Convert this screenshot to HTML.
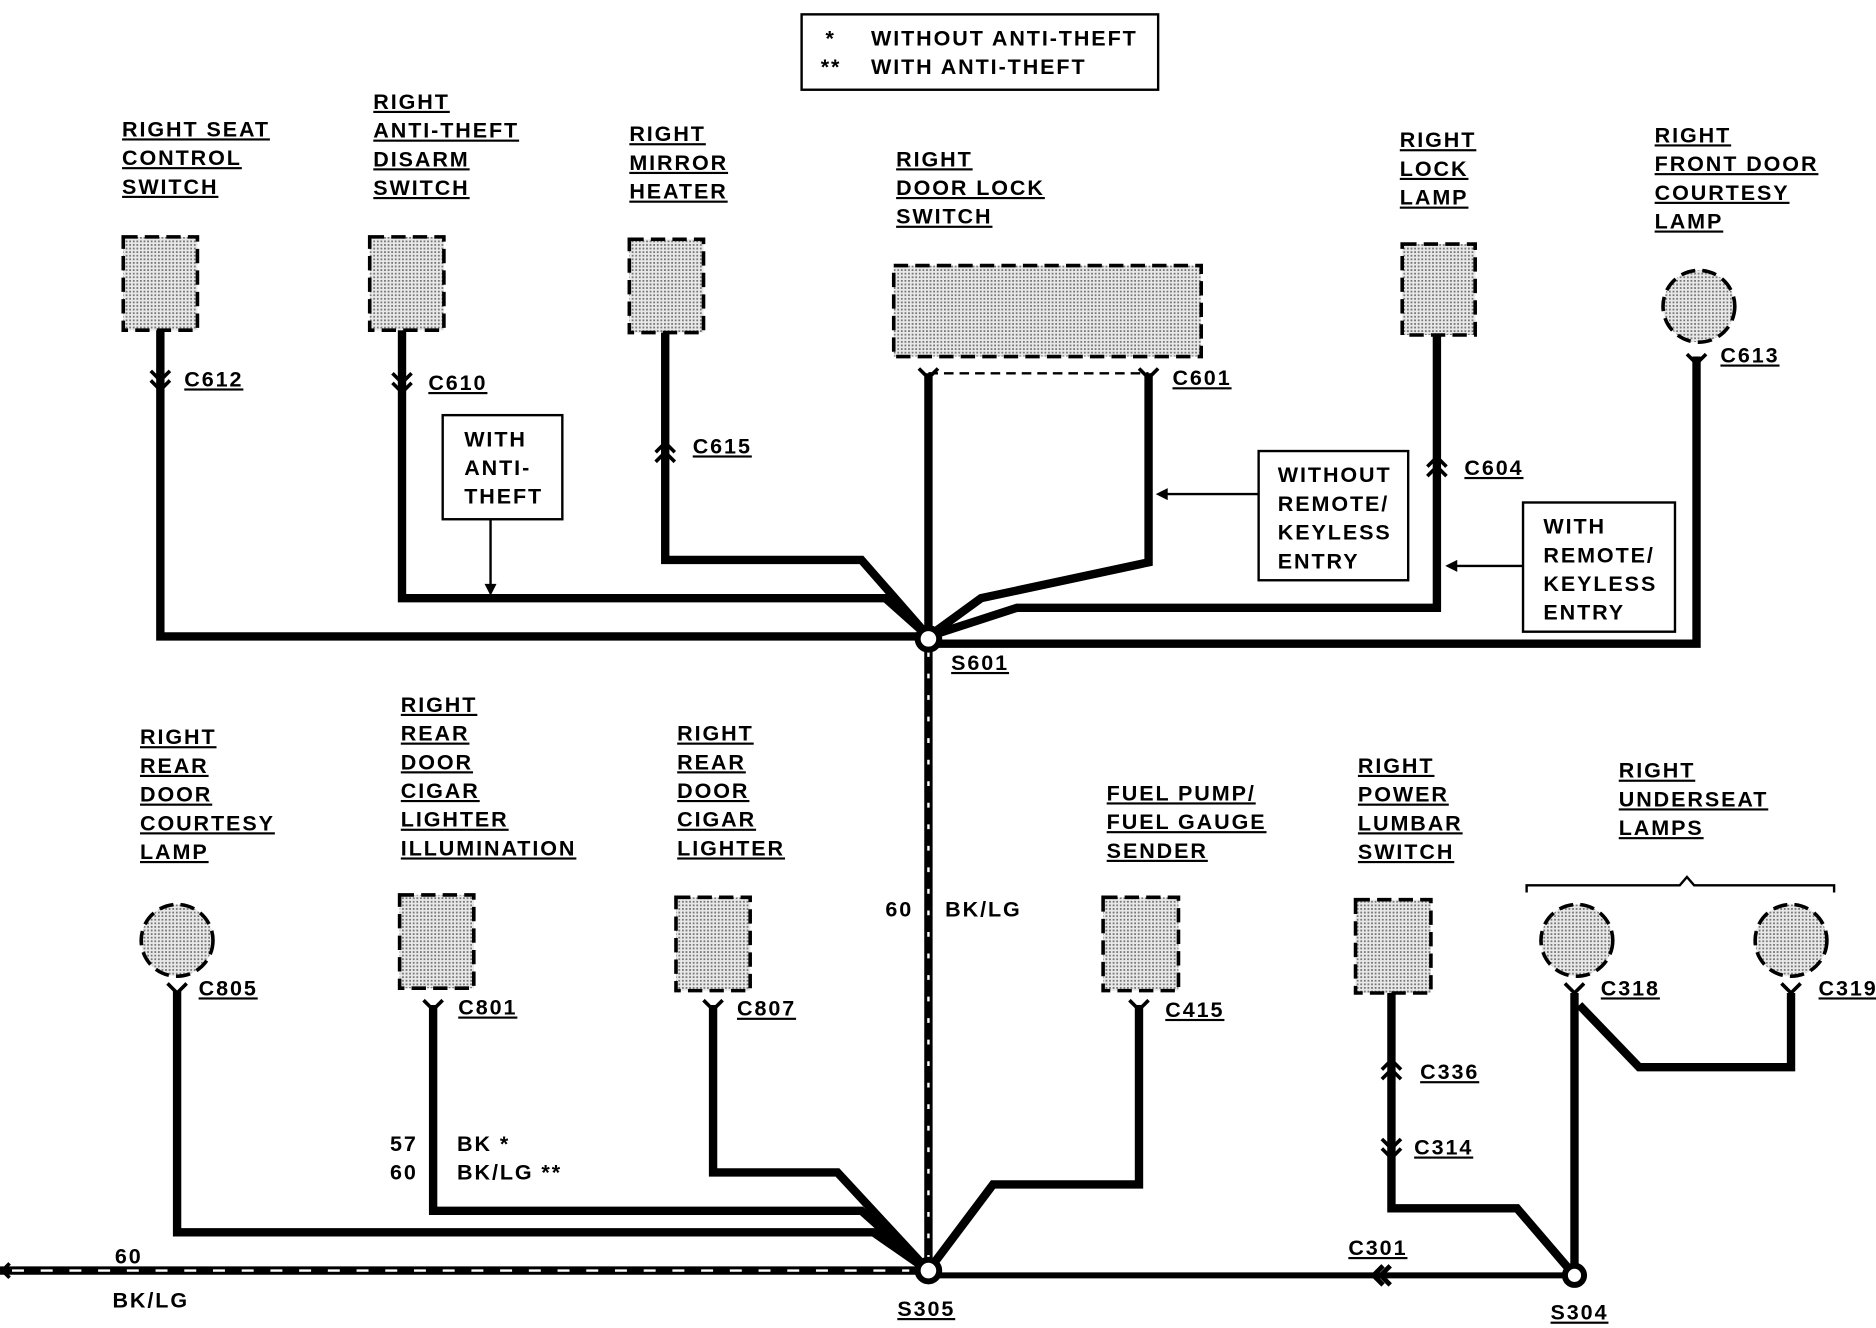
<!DOCTYPE html>
<html><head><meta charset="utf-8"><style>
html,body{margin:0;padding:0;background:#fff}
svg{display:block}
text{font-family:"Liberation Sans",sans-serif;font-weight:bold;font-size:18px;fill:#000;letter-spacing:1.6px}
.u{text-decoration:underline}
</style></head><body>
<svg width="1876" height="1328" viewBox="0 0 1568 1110" xmlns="http://www.w3.org/2000/svg">
<defs>
<pattern id="dots" width="3" height="3" patternUnits="userSpaceOnUse">
<rect width="3" height="3" fill="#e8e8e8"/><rect width="1.5" height="1.5" fill="#777"/>
</pattern>
</defs>
<g fill="none" stroke="#000" stroke-width="7" stroke-linejoin="miter">
<polyline points="134,276 134,532 776,532"/>
<polyline points="336,276 336,500 740,500 776,532"/>
<polyline points="556,278 556,468 720,468 776,532"/>
<polyline points="776,312 776,532"/>
<polyline points="960,312 960,470 820,500 776,532"/>
<polyline points="1201,280 1201,508 850,508 776,532"/>
<polyline points="1418,298 1418,538 776,538 776,532"/>
<polyline points="148,828 148,1030 730,1030 776,1062"/>
<polyline points="362,840 362,1012 720,1012 776,1062"/>
<polyline points="596,840 596,980 700,980 776,1062"/>
<polyline points="952,840 952,990 830,990 776,1062"/>
<polyline points="1163,830 1163,1010 1268,1010 1316,1066"/>
<polyline points="1316,830 1316,1066"/>
<polyline points="1497,830 1497,892 1370,892 1320,840"/>
<line x1="776" y1="1066" x2="1316" y2="1066" stroke-width="5"/>
<line x1="776" y1="534" x2="776" y2="1062"/>
<line x1="0" y1="1062" x2="776" y2="1062"/>
</g>
<line x1="776" y1="545" x2="776" y2="1052" stroke="#fff" stroke-width="2" stroke-dasharray="4,14"/>
<line x1="10" y1="1062" x2="760" y2="1062" stroke="#fff" stroke-width="2" stroke-dasharray="10,14"/>
<line x1="776" y1="312" x2="960" y2="312" stroke="#000" stroke-width="2" stroke-dasharray="8,5"/>
<g fill="url(#dots)" stroke="#000" stroke-width="3" stroke-dasharray="12,6">
<rect x="103" y="198" width="62" height="78"/>
<rect x="309" y="198" width="62" height="78"/>
<rect x="526" y="200" width="62" height="78"/>
<rect x="747" y="222" width="257" height="76"/>
<rect x="1172" y="204" width="61" height="76"/>
<circle cx="1420" cy="256" r="30"/>
<circle cx="148" cy="786" r="30"/>
<rect x="334" y="748" width="62" height="78"/>
<rect x="565" y="750" width="62" height="78"/>
<rect x="922" y="750" width="63" height="78"/>
<rect x="1133" y="752" width="63" height="78"/>
<circle cx="1318" cy="786" r="30"/>
<circle cx="1497" cy="786" r="30"/>
</g>
<g fill="none" stroke="#000" stroke-width="3">
<path d="M126,310 L134,318 L142,310 M126,318 L134,326 L142,318"/>
<path d="M328,312 L336,320 L344,312 M328,320 L336,328 L344,320"/>
<path d="M548,378 L556,370 L564,378 M548,386 L556,378 L564,386"/>
<path d="M1193,390 L1201,382 L1209,390 M1193,398 L1201,390 L1209,398"/>
<path d="M1155,894 L1163,886 L1171,894 M1155,902 L1163,894 L1171,902"/>
<path d="M1155,952 L1163,960 L1171,952 M1155,960 L1163,968 L1171,960"/>
<path d="M768,308 L776,316 L784,308 M952,308 L960,316 L968,308"/>
<path d="M1410,296 L1418,304 L1426,296"/>
<path d="M140,822 L148,830 L156,822 M354,836 L362,844 L370,836 M588,836 L596,844 L604,836 M944,836 L952,844 L960,836 M1308,822 L1316,830 L1324,822 M1489,822 L1497,830 L1505,822"/>
<path d="M1156,1058 L1148,1066 L1156,1074 M1162,1058 L1154,1066 L1162,1074" stroke-width="4"/>
<path d="M8,1056 L2,1062 L8,1068"/>
<path d="M1276,746 L1276,740 L1404,740 L1410,733 L1416,740 L1533,740 L1533,746" stroke-width="2"/>
</g>
<g fill="#fff" stroke="#000" stroke-width="5">
<circle cx="776" cy="534" r="9"/><circle cx="776" cy="1062" r="9"/><circle cx="1316" cy="1066" r="8"/>
</g>
<g fill="none" stroke="#000" stroke-width="2">
<rect x="670" y="12" width="298" height="63"/>
<rect x="370" y="347" width="100" height="87"/>
<rect x="1052" y="377" width="125" height="108"/>
<rect x="1273" y="420" width="127" height="108"/>
<line x1="410" y1="434" x2="410" y2="490"/>
<line x1="1052" y1="413" x2="974" y2="413"/>
<line x1="1273" y1="473" x2="1216" y2="473"/>
</g>
<g fill="#000">
<path d="M405,488 L410,498 L415,488Z"/>
<path d="M976,408 L966,413 L976,418Z"/>
<path d="M1218,468 L1208,473 L1218,478Z"/>
</g>
<text x="690" y="38">*</text><text x="728" y="38">WITHOUT ANTI-THEFT</text>
<text x="686" y="62">**</text><text x="728" y="62">WITH ANTI-THEFT</text>
<g>
<text x="102" y="114" class="u">RIGHT SEAT</text><text x="102" y="138" class="u">CONTROL</text><text x="102" y="162" class="u">SWITCH</text>
<text x="312" y="91" class="u">RIGHT</text><text x="312" y="115" class="u">ANTI-THEFT</text><text x="312" y="139" class="u">DISARM</text><text x="312" y="163" class="u">SWITCH</text>
<text x="526" y="118" class="u">RIGHT</text><text x="526" y="142" class="u">MIRROR</text><text x="526" y="166" class="u">HEATER</text>
<text x="749" y="139" class="u">RIGHT</text><text x="749" y="163" class="u">DOOR LOCK</text><text x="749" y="187" class="u">SWITCH</text>
<text x="1170" y="123" class="u">RIGHT</text><text x="1170" y="147" class="u">LOCK</text><text x="1170" y="171" class="u">LAMP</text>
<text x="1383" y="119" class="u">RIGHT</text><text x="1383" y="143" class="u">FRONT DOOR</text><text x="1383" y="167" class="u">COURTESY</text><text x="1383" y="191" class="u">LAMP</text>
<text x="117" y="622" class="u">RIGHT</text><text x="117" y="646" class="u">REAR</text><text x="117" y="670" class="u">DOOR</text><text x="117" y="694" class="u">COURTESY</text><text x="117" y="718" class="u">LAMP</text>
<text x="335" y="595" class="u">RIGHT</text><text x="335" y="619" class="u">REAR</text><text x="335" y="643" class="u">DOOR</text><text x="335" y="667" class="u">CIGAR</text><text x="335" y="691" class="u">LIGHTER</text><text x="335" y="715" class="u">ILLUMINATION</text>
<text x="566" y="619" class="u">RIGHT</text><text x="566" y="643" class="u">REAR</text><text x="566" y="667" class="u">DOOR</text><text x="566" y="691" class="u">CIGAR</text><text x="566" y="715" class="u">LIGHTER</text>
<text x="925" y="669" class="u">FUEL PUMP/</text><text x="925" y="693" class="u">FUEL GAUGE</text><text x="925" y="717" class="u">SENDER</text>
<text x="1135" y="646" class="u">RIGHT</text><text x="1135" y="670" class="u">POWER</text><text x="1135" y="694" class="u">LUMBAR</text><text x="1135" y="718" class="u">SWITCH</text>
<text x="1353" y="650" class="u">RIGHT</text><text x="1353" y="674" class="u">UNDERSEAT</text><text x="1353" y="698" class="u">LAMPS</text>
<text x="154" y="323" class="u">C612</text><text x="358" y="326" class="u">C610</text><text x="579" y="379" class="u">C615</text>
<text x="980" y="322" class="u">C601</text><text x="1224" y="397" class="u">C604</text><text x="1438" y="303" class="u">C613</text>
<text x="795" y="560" class="u">S601</text>
<text x="166" y="832" class="u">C805</text><text x="383" y="848" class="u">C801</text><text x="616" y="849" class="u">C807</text>
<text x="974" y="850" class="u">C415</text><text x="1187" y="902" class="u">C336</text><text x="1182" y="965" class="u">C314</text>
<text x="1338" y="832" class="u">C318</text><text x="1520" y="832" class="u">C319</text>
<text x="1127" y="1049" class="u">C301</text><text x="750" y="1100" class="u">S305</text><text x="1296" y="1103" class="u">S304</text>
</g>
<text x="388" y="373">WITH</text><text x="388" y="397">ANTI-</text><text x="388" y="421">THEFT</text>
<text x="1068" y="403">WITHOUT</text><text x="1068" y="427">REMOTE/</text><text x="1068" y="451">KEYLESS</text><text x="1068" y="475">ENTRY</text>
<text x="1290" y="446">WITH</text><text x="1290" y="470">REMOTE/</text><text x="1290" y="494">KEYLESS</text><text x="1290" y="518">ENTRY</text>
<text x="740" y="766">60</text><text x="790" y="766">BK/LG</text>
<text x="326" y="962">57</text><text x="382" y="962">BK *</text>
<text x="326" y="986">60</text><text x="382" y="986">BK/LG **</text>
<text x="96" y="1056">60</text><text x="94" y="1093">BK/LG</text>
</svg>
</body></html>
